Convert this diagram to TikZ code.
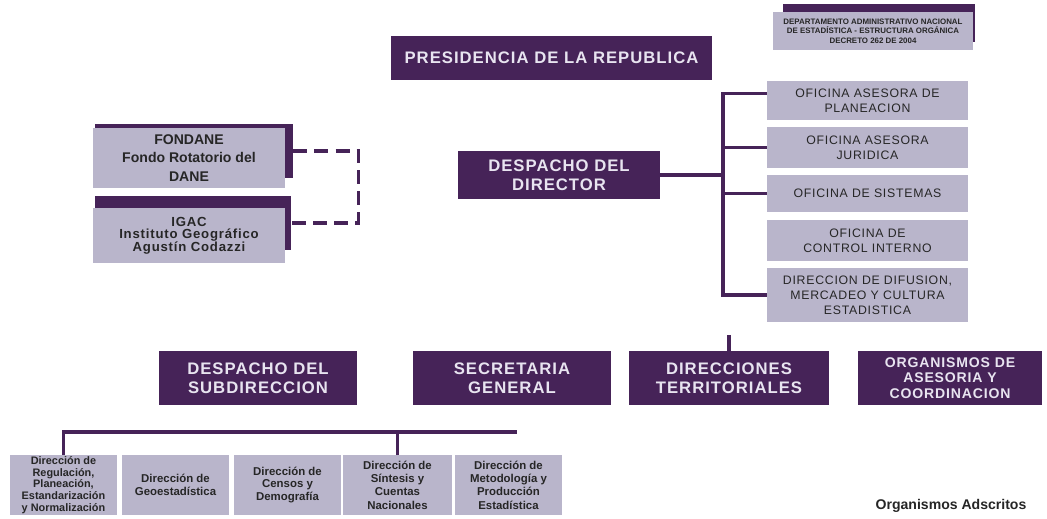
\documentclass[tikz,border=0pt]{standalone}
\usepackage{fontspec}
\setmainfont{Liberation Sans}
\newfontfamily\widefont[LetterSpace=6]{Liberation Sans}
\usepackage{tikz}
\definecolor{dane-purple}{RGB}{70,35,88}
\definecolor{dane-lilac}{RGB}{185,181,203}
\definecolor{dane-text}{RGB}{232,228,240}

\begin{document}
\begin{tikzpicture}[x=0.02cm, y=-0.02cm,
	darkbox/.style={fill=dane-purple, text=dane-text, align=center, inner sep=0pt, font=\widefont\bfseries\fontsize{9.5}{11}\selectfont},
	lightbox/.style={fill=dane-lilac, text=black!85, align=center, inner sep=0pt},
	shadowbox/.style={fill=dane-purple, inner sep=0pt},
	officebox/.style={lightbox, minimum width=4.02cm, font=\widefont\fontsize{7}{8.5}\selectfont},
	unitbox/.style={lightbox, minimum height=1.2cm, font=\bfseries\fontsize{6.5}{7.1}\selectfont},
	link/.style={draw=dane-purple, line width=1.8pt},
	dashlink/.style={link, dash pattern=on 8pt off 4pt}]
		
		\useasboundingbox (0,0) rectangle (1047,519);
		
		% Draw the legend box
		\node (legend-sh) [shadowbox, minimum width=3.84cm, minimum height=0.76cm] at (879,23) {};
		\node (legend) [lightbox, minimum width=4cm, minimum height=0.76cm, font=\bfseries\fontsize{4.5}{5.4}\selectfont] at (873,31) {DEPARTAMENTO ADMINISTRATIVO NACIONAL\\DE ESTADÍSTICA - ESTRUCTURA ORGÁNICA\\DECRETO 262 DE 2004};
		
		% Draw the top level
		\node (presidencia) [darkbox, minimum width=6.42cm, minimum height=0.88cm] at (551.5,58) {PRESIDENCIA DE LA REPUBLICA};
		
		% Draw the attached bodies
		\node (fondane-sh) [shadowbox, minimum width=3.96cm, minimum height=1.08cm] at (194,151) {};
		\node (fondane) [lightbox, minimum width=3.84cm, minimum height=1.2cm, font=\bfseries\fontsize{8}{10.5}\selectfont] at (189,158) {FONDANE\\Fondo Rotatorio del\\DANE};
		\node (igac-sh) [shadowbox, minimum width=3.92cm, minimum height=1.08cm] at (193,223) {};
		\node (igac) [lightbox, minimum width=3.84cm, minimum height=1.1cm, font=\widefont\bfseries\fontsize{7.5}{7.2}\selectfont] at (189,235.5) {IGAC\\Instituto Geográfico\\Agustín Codazzi};
		
		% Draw the director
		\node (director) [darkbox, minimum width=4.04cm, minimum height=0.96cm] at (559,175) {DESPACHO DEL\\DIRECTOR};
		
		% Draw the advisory offices
		\node (planeacion) [officebox, minimum height=0.78cm] at (867.5,100.5) {OFICINA ASESORA DE\\PLANEACION};
		\node (juridica) [officebox, minimum height=0.82cm] at (867.5,147.5) {OFICINA ASESORA\\JURIDICA};
		\node (sistemas) [officebox, minimum height=0.74cm] at (867.5,193.5) {OFICINA DE SISTEMAS};
		\node (control) [officebox, minimum height=0.82cm] at (867.5,240.5) {OFICINA DE\\CONTROL INTERNO};
		\node (difusion) [officebox, minimum height=1.08cm] at (867.5,295) {DIRECCION DE DIFUSION,\\MERCADEO Y CULTURA\\ESTADISTICA};
		
		% Draw the second level
		\node (subdireccion) [darkbox, minimum width=3.96cm, minimum height=1.08cm] at (258,378) {DESPACHO DEL\\SUBDIRECCION};
		\node (secretaria) [darkbox, minimum width=3.96cm, minimum height=1.08cm] at (512,378) {SECRETARIA\\GENERAL};
		\node (territoriales) [darkbox, minimum width=4cm, minimum height=1.08cm] at (729,378) {DIRECCIONES\\TERRITORIALES};
		\node (organismos) [darkbox, minimum width=3.68cm, minimum height=1.08cm, font=\widefont\bfseries\fontsize{8}{8.7}\selectfont] at (950,378) {ORGANISMOS DE\\ASESORIA Y\\COORDINACION};
		
		% Draw the technical directorates
		\node (regulacion) [unitbox, minimum width=2.14cm, font=\bfseries\fontsize{6.2}{6.6}\selectfont] at (63.5,485) {Dirección de\\Regulación,\\Planeación,\\Estandarización\\y Normalización};
		\node (geoestadistica) [unitbox, minimum width=2.14cm] at (175.5,485) {Dirección de\\Geoestadística};
		\node (censos) [unitbox, minimum width=2.14cm] at (287.5,485) {Dirección de\\Censos y\\Demografía};
		\node (sintesis) [unitbox, minimum width=2.18cm, font=\bfseries\fontsize{6.5}{7.6}\selectfont] at (397.5,485) {Dirección de\\Síntesis y\\Cuentas\\Nacionales};
		\node (metodologia) [unitbox, minimum width=2.14cm, font=\bfseries\fontsize{6.5}{7.6}\selectfont] at (508.5,485) {Dirección de\\Metodología y\\Producción\\Estadística};
		
		% Draw the footer
		\node (adscritos) [font=\bfseries\fontsize{8}{9}\selectfont, text=black!85] at (951,506) {Organismos Adscritos};
		
		% Connect the attached bodies
		\draw[dashlink] (fondane-sh.east) -- ++(65,0) |- (igac-sh.east);
		
		% Connect the director with the offices
		\coordinate (bus) at (723,175);
		\draw[link] (director.east) -- (bus);
		\draw[link] ([yshift=0.14cm]planeacion.west) -- ([yshift=0.14cm]planeacion.west -| bus) -- (difusion.west -| bus) -- (difusion.west);
		\draw[link] (juridica.west) -- (juridica.west -| bus);
		\draw[link] (sistemas.west) -- (sistemas.west -| bus);
		
		% Stub above the territorial offices
		\coordinate (stub) at (729,335);
		\draw[link] (stub) -- (territoriales.north);
		
		% Connect the technical directorates
		\coordinate (busend) at (517,432);
		\draw[link] (regulacion.north) |- (busend);
		\draw[link] (sintesis.north) -- (sintesis.north |- busend);
		\end{tikzpicture}
\end{document}
